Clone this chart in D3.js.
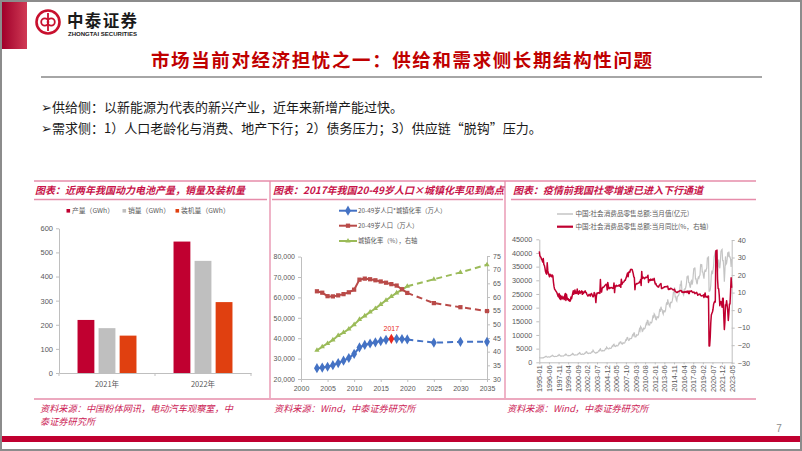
<!DOCTYPE html>
<html><head><meta charset="utf-8">
<script src="https://cdn.jsdelivr.net/npm/d3@7"></script>
<style>body{margin:0;background:#fff}svg{display:block}</style>
</head><body><svg id="s" width="802" height="451"></svg>
<script>
// ---------- DATA ----------
// Panel 1: power battery
const batteryCategories = ["2021年", "2022年"];
const batterySeriesNames = ["产量（GWh）", "销量（GWh）", "装机量（GWh）"];
const batteryProduction = [220, 545];
const batterySales = [186, 465];
const batteryInstalled = [155, 294];
const batteryYTicks = [0, 100, 200, 300, 400, 500, 600];

// Panel 2: population x urbanisation
const popYears = [2003,2004,2005,2006,2007,2008,2009,2010,2011,2012,2013,2014,2015,2016,2017,2018,2019,2020,2025,2030,2035];
const popTimesUrban = [25300,25600,26000,26800,27800,29000,30300,32300,35500,36700,37400,38000,38600,39200,39700,39700,39600,39400,37800,38200,38200];
const pop20to49 = [63000,62300,60600,60500,61000,61600,62500,63800,68700,69200,68900,68400,67800,67200,66500,65800,64000,62200,57200,55200,53300];
const urbanRate = [40.5,41.8,43.0,44.3,45.9,47.0,48.3,49.9,51.8,53.1,54.5,55.8,57.3,58.8,60.2,61.5,62.7,63.9,66.5,69.0,71.8];
const popLegend = ["20-49岁人口*城镇化率（万人）", "20-49岁人口（万人）", "城镇化率（%），右轴"];
const popXTicks = [2000,2005,2010,2015,2020,2025,2030,2035];
const popLeftTicks = [20000,30000,40000,50000,60000,70000,80000];
const popRightTicks = [30,35,40,45,50,55,60,65,70,75];

// Panel 3: retail sales, monthly 1995-01 .. 2023-05
const retailLevel = [
 1870,1670,1600,1580,1660,1630,1610,1640,1780,1900,1870,2150,
 2250,2000,1920,1900,2000,1960,1930,1970,2140,2290,2250,2580,
 2480,2210,2110,2090,2200,2160,2130,2170,2360,2520,2480,2840,
 2650,2360,2250,2230,2350,2310,2280,2320,2520,2700,2650,3040,
 2830,2520,2400,2380,2510,2460,2430,2480,2690,2880,2830,3250,
 3100,2760,2640,2620,2750,2700,2670,2720,2950,3150,3100,3550,
 3400,3050,2900,2880,3030,2980,2940,2990,3250,3470,3410,3910,
 3800,3400,3250,3220,3380,3330,3280,3330,3610,3860,3800,4440,
 4130,3700,3550,3430,3340,3590,3570,3620,3890,4210,4150,4700,
 4900,4300,4150,4080,4350,4330,4170,4200,4590,4990,4910,5560,
 5300,5012,4916,4900,5250,5160,5090,5150,5570,6000,5820,6480,
 6642,6002,5796,5775,6176,6058,6012,6077,6554,7051,6822,7500,
 7489,7014,6686,6673,7158,7026,6999,7116,7668,8263,8104,9015,
 9077,8355,7985,8143,8703,8642,8629,8767,9447,10083,9791,10728,
 10757,9324,9318,9343,10028,9942,9937,10115,11090,12123,11597,13079,
 12718,12335,11321,11510,12455,12330,12252,12570,13537,14285,13910,15330,
 15250,13770,13588,13649,14697,14565,14408,14705,15865,17200,16130,17740,
 17400,16700,15650,15603,16715,16584,16315,16659,18227,19546,18477,20334,
 19400,19270,18148,17600,18886,18826,18477,18886,20654,21979,21012,23060,
 21630,21630,20622,20221,21955,21943,21899,22564,23693,25659,25692,27393,
 23939,23939,22734,22386,24195,24275,24340,25056,26133,28307,28224,29939,
 26275,26275,25061,24646,26611,26857,26827,27540,28802,31119,30959,31757,
 29204,29204,27864,27278,29459,29808,28400,29300,31900,34200,34100,34700,
 30541,30541,29194,28542,30359,31079,30734,31542,32005,35534,35260,35893,
 33032,33032,31726,30586,32956,33878,33073,33896,34495,38104,38094,38777,
 26065,26065,26450,28178,31973,33526,32203,33571,35295,38576,39514,40566,
 34869,34869,35484,33153,35945,37586,34925,34395,36833,40454,41043,41269,
 37213,37213,34233,29483,33547,38742,35870,36258,37745,40271,38615,40542,
 38534,38534,37715,34910,37803
];
const retailYoY = [
 33.5,31.0,30.5,30.0,29.0,28.5,27.5,29.5,26.0,25.5,24.0,22.0,
 21.0,20.5,27.0,22.5,21.0,20.0,19.0,20.5,19.5,20.0,19.0,20.0,
 19.5,16.0,13.5,12.0,11.5,11.0,10.5,10.0,9.0,8.0,7.5,9.5,
 6.5,8.5,6.0,7.5,8.0,6.5,7.0,7.5,6.0,8.5,9.5,5.5,
 9.0,7.0,6.0,6.5,5.5,6.0,5.0,5.5,7.5,6.5,8.0,9.5,
 11.0,9.0,10.0,11.5,9.5,10.0,9.5,12.0,10.0,9.0,10.5,11.0,
 9.5,10.0,10.5,11.0,9.0,10.5,9.5,10.0,10.5,11.0,10.0,10.0,
 9.0,8.5,8.0,8.5,9.0,8.5,8.0,9.0,9.5,9.0,8.0,7.5,
 8.0,10.0,9.5,7.7,4.3,8.3,9.8,9.5,10.0,9.8,10.0,9.5,
 17.5,10.5,10.3,12.2,13.0,12.9,13.2,13.6,14.0,14.4,14.8,14.5,
 11.5,15.8,13.9,12.2,12.7,12.5,12.7,12.9,12.8,12.7,12.4,12.5,
 15.5,10.0,13.7,13.3,14.2,13.9,13.7,13.8,13.9,14.3,13.7,14.6,
 13.0,17.6,14.7,15.4,15.9,16.0,16.4,17.1,17.0,18.1,18.8,20.2,
 21.2,19.1,21.5,22.0,21.6,23.0,23.3,23.2,23.2,22.0,20.8,19.0,
 18.5,11.6,14.7,14.8,15.2,15.0,15.2,15.4,15.5,16.2,15.8,17.5,
 14.1,22.1,18.0,18.5,18.7,18.3,17.9,18.4,18.8,18.6,18.7,19.1,
 19.9,15.8,17.4,17.1,16.9,17.7,17.2,17.0,17.7,17.2,17.3,18.1,
 16.0,14.9,15.2,14.1,13.8,13.7,13.1,13.2,14.2,14.5,14.9,15.2,
 12.3,12.3,12.6,12.8,12.9,13.3,13.2,13.4,13.3,13.3,13.7,13.6,
 11.8,11.8,12.2,11.9,12.5,12.4,12.2,11.9,11.6,11.5,11.7,11.9,
 10.7,10.7,10.2,10.0,10.1,10.6,10.5,10.8,10.9,11.0,11.2,11.1,
 10.2,10.2,10.5,10.1,10.0,10.6,10.2,10.6,10.7,10.0,10.8,10.9,
 9.5,9.5,10.9,10.7,10.7,11.0,10.4,10.1,10.3,10.0,10.2,9.4,
 9.7,9.7,10.1,9.4,8.5,9.0,8.8,9.0,9.2,8.6,8.1,8.2,
 8.2,8.2,8.7,7.2,8.6,9.8,7.6,7.5,7.8,7.2,8.0,8.0,
 -20.5,-20.5,-15.8,-7.5,-2.8,-1.8,-1.1,0.5,3.3,4.3,5.0,4.6,
 33.8,33.8,34.2,17.7,12.4,12.1,8.5,2.5,4.4,4.9,3.9,1.7,
 6.7,6.7,-3.5,-11.1,-6.7,3.1,2.7,5.4,2.5,-0.5,-5.9,-1.8,
 3.5,3.5,10.6,18.4,12.7
];
const retailXTickLabels = ["1995-01","1996-06","1997-11","1999-04","2000-09","2002-02","2003-07","2004-12","2006-05","2007-10","2009-03","2010-08","2012-01","2013-06","2014-11","2016-04","2017-09","2019-02","2020-07","2021-12","2023-05"];
const retailLeftTicks = [0,5000,10000,15000,20000,25000,30000,35000,40000,45000];
const retailRightTicks = [-30,-20,-10,0,10,20,30,40];
const retailLegend = ["中国:社会消费品零售总额:当月值(亿元)", "中国:社会消费品零售总额:当月同比(%，右轴)"];

// ---------- DRAW ----------
const svg = d3.select("#s");
const CJK = "'Noto Sans CJK SC','Noto Sans',sans-serif";
const LAT = "'Liberation Sans',Arial,sans-serif";
const CRIMSON = "#C00030";
const PINK = "#E68CAA";
const AX = "#BFBFBF", TX = "#595959";

svg.append("rect").attr("x",1).attr("y",1).attr("width",800).attr("height",449)
  .attr("fill","#fff").attr("stroke","#8c8c8c").attr("stroke-width",2);

const defs = svg.append("defs");
const g1 = defs.append("linearGradient").attr("id","rg").attr("x1",0).attr("x2",1).attr("y1",0).attr("y2",0);
g1.append("stop").attr("offset","0%").attr("stop-color","#A0002A");
g1.append("stop").attr("offset","100%").attr("stop-color","#D03A55");
svg.append("rect").attr("x",2).attr("y",2).attr("width",25).attr("height",47).attr("fill","url(#rg)");

// logo
const logo = svg.append("g").attr("fill","none").attr("stroke","#C8102E");
logo.append("circle").attr("cx",48).attr("cy",22).attr("r",11.5).attr("stroke-width",2.6);
logo.append("circle").attr("cx",44.8).attr("cy",22).attr("r",3.6).attr("stroke-width",1.8);
logo.append("circle").attr("cx",51.2).attr("cy",22).attr("r",3.6).attr("stroke-width",1.8);
logo.append("line").attr("x1",48).attr("x2",48).attr("y1",13).attr("y2",31).attr("stroke-width",1.8);
svg.append("text").attr("x",67).attr("y",27).attr("font-family",CJK).attr("font-weight",700)
  .attr("font-size",16.5).attr("fill","#1a1a1a").attr("textLength",70).text("中泰证券");
svg.append("text").attr("x",68).attr("y",35.5).attr("font-family",LAT).attr("font-weight",700)
  .attr("font-size",4.8).attr("fill","#1a1a1a").attr("textLength",69).attr("lengthAdjust","spacingAndGlyphs").text("ZHONGTAI SECURITIES");

// title
svg.append("text").attr("x",151).attr("y",67).attr("font-family",CJK).attr("font-weight",700)
  .attr("font-size",18.5).attr("fill","#C00000").attr("textLength",501)
  .text("市场当前对经济担忧之一：供给和需求侧长期结构性问题");
svg.append("line").attr("x1",41).attr("x2",762).attr("y1",77).attr("y2",77).attr("stroke","#A6A6A6").attr("stroke-width",2);

// bullets
svg.append("text").attr("x",41).attr("y",112).attr("font-family",CJK).attr("font-size",13).attr("fill","#1a1a1a")
  .text("➢供给侧：以新能源为代表的新兴产业，近年来新增产能过快。");
svg.append("text").attr("x",41).attr("y",133).attr("font-family",CJK).attr("font-size",13).attr("fill","#1a1a1a")
  .text("➢需求侧：1）人口老龄化与消费、地产下行；2）债务压力；3）供应链“脱钩”压力。");

// panel frame lines
const fr = svg.append("g").attr("stroke",PINK).attr("stroke-width",1.3);
fr.append("line").attr("x1",34).attr("x2",756).attr("y1",181).attr("y2",181);
fr.append("line").attr("x1",34).attr("x2",267).attr("y1",199.5).attr("y2",199.5);
fr.append("line").attr("x1",272).attr("x2",503).attr("y1",199.5).attr("y2",199.5);
fr.append("line").attr("x1",511).attr("x2",756).attr("y1",199.5).attr("y2",199.5);
fr.append("line").attr("x1",270).attr("x2",270).attr("y1",181).attr("y2",398);
fr.append("line").attr("x1",505).attr("x2",505).attr("y1",181).attr("y2",398);
fr.append("line").attr("x1",34).attr("x2",756).attr("y1",399).attr("y2",399);

function chartTitle(x, t) {
  svg.append("text").attr("x",x).attr("y",194).attr("font-family",CJK).attr("font-size",10)
    .attr("font-weight",700).attr("font-style","italic").attr("fill","#C8144A").text(t);
}
chartTitle(35, "图表：近两年我国动力电池产量，销量及装机量");
chartTitle(273, "图表：2017年我国20-49岁人口×城镇化率见到高点");
chartTitle(513, "图表：疫情前我国社零增速已进入下行通道");

function source(x, y, t) {
  svg.append("text").attr("x",x).attr("y",y).attr("font-family",CJK).attr("font-size",9.2)
    .attr("font-style","italic").attr("fill","#CC2255").text(t);
}
source(40, 411.5, "资料来源：中国粉体网讯，电动汽车观察室，中");
source(40, 425.3, "泰证券研究所");
source(274, 411.5, "资料来源：Wind，中泰证券研究所");
source(507, 411.5, "资料来源：Wind，中泰证券研究所");

svg.append("rect").attr("x",2).attr("y",436).attr("width",798).attr("height",6).attr("fill",CRIMSON);
svg.append("text").attr("x",779).attr("y",432).attr("text-anchor","middle").attr("font-family",LAT)
  .attr("font-size",10).attr("fill","#8c8c8c").text("7");

function styleAxis(g, fs) {
  g.attr("font-family", LAT).attr("font-size", fs);
  g.select(".domain").attr("stroke", AX);
  g.selectAll(".tick line").attr("stroke", AX);
  g.selectAll(".tick text").attr("fill", TX);
}

// ---------- PANEL 1 ----------
{
  const x = d3.scaleBand().domain(batteryCategories).range([59, 251]);
  const xi = d3.scaleBand().domain(batterySeriesNames).range([0, x.bandwidth()]).paddingInner(0.2).paddingOuter(0.88);
  const y = d3.scaleLinear().domain([0, 600]).range([373, 228.3]);
  const colors = ["#C00030", "#BFBFBF", "#E04010"];
  const vals = [batteryProduction, batterySales, batteryInstalled];
  const ya = svg.append("g").attr("transform","translate(59,0)")
    .call(d3.axisLeft(y).tickValues(batteryYTicks).tickSize(3).tickSizeOuter(0));
  styleAxis(ya, 7.5);
  batterySeriesNames.forEach((s, si) => {
    svg.append("g").selectAll("rect").data(batteryCategories).join("rect")
      .attr("x", c => x(c) + xi(s)).attr("width", xi.bandwidth())
      .attr("y", (c, ci) => y(vals[si][ci])).attr("height", (c, ci) => y(0) - y(vals[si][ci]))
      .attr("fill", colors[si]);
  });
  const xa = svg.append("g").attr("transform","translate(0,373)")
    .call(d3.axisBottom(x).tickSize(0).tickPadding(9));
  styleAxis(xa, 7.5);
  xa.selectAll(".tick text").attr("font-family", CJK);
  const bounds = [x(batteryCategories[0]), x(batteryCategories[1]), x(batteryCategories[1]) + x.bandwidth()];
  svg.append("g").selectAll("line").data(bounds).join("line")
    .attr("x1", d => d).attr("x2", d => d).attr("y1", 373).attr("y2", 376).attr("stroke", AX);
  const lx = [66.5, 122.5, 175.5];
  batterySeriesNames.forEach((s, i) => {
    svg.append("rect").attr("x", lx[i]).attr("y", 209).attr("width", 3.6).attr("height", 3.6).attr("fill", colors[i]);
    svg.append("text").attr("x", lx[i] + 5.5).attr("y", 213.3).attr("font-family", CJK).attr("font-size", 6.8)
      .attr("fill", TX).text(s);
  });
}

// ---------- PANEL 2 ----------
{
  const x = d3.scaleLinear().domain([2000, 2035]).range([301, 487]);
  const yl = d3.scaleLinear().domain([20000, 80000]).range([379, 256.6]);
  const yr = d3.scaleLinear().domain([30, 75]).range([379, 256]);
  const xa = svg.append("g").attr("transform","translate(0,379)")
    .call(d3.axisBottom(x).tickValues(popXTicks).tickFormat(d3.format("d")).tickSize(3).tickSizeOuter(0).tickPadding(4));
  styleAxis(xa, 7);
  const la = svg.append("g").attr("transform","translate(301,0)")
    .call(d3.axisLeft(yl).tickValues(popLeftTicks).tickFormat(d3.format(",")).tickSize(3).tickSizeOuter(0));
  styleAxis(la, 7);
  const ra = svg.append("g").attr("transform","translate(487,0)")
    .call(d3.axisRight(yr).tickValues(popRightTicks).tickSize(3).tickSizeOuter(0));
  styleAxis(ra, 7);

  const series = [
    {vals: urbanRate, y: yr, color: "#9BBB59", sym: d3.symbolTriangle, size: 12},
    {vals: pop20to49, y: yl, color: "#B94A48", sym: d3.symbolSquare, size: 18},
    {vals: popTimesUrban, y: yl, color: "#4472C4", sym: d3.symbolDiamond, size: 30},
  ];
  series.forEach(s => {
    const pts = popYears.map((yr_, i) => ({yr: yr_, v: s.vals[i]}));
    const line = d3.line().x(d => x(d.yr)).y(d => s.y(d.v));
    svg.append("path").datum(pts.filter(d => d.yr <= 2020)).attr("d", line)
      .attr("fill","none").attr("stroke", s.color).attr("stroke-width", 2);
    svg.append("path").datum(pts.filter(d => d.yr >= 2020)).attr("d", line)
      .attr("fill","none").attr("stroke", s.color).attr("stroke-width", 2).attr("stroke-dasharray","6,4");
    svg.append("g").selectAll("path").data(pts).join("path")
      .attr("transform", d => `translate(${x(d.yr)},${s.y(d.v)})`)
      .attr("d", d3.symbol(s.sym, s.size))
      .attr("fill", d => (s.sym === d3.symbolDiamond && d.yr === 2017) ? "#E8281E" : s.color);
  });
  const i17 = popYears.indexOf(2017);
  svg.append("text").attr("x", x(2017)).attr("y", yl(popTimesUrban[i17]) - 8).attr("text-anchor","middle")
    .attr("font-family", LAT).attr("font-size", 7).attr("fill", "#E8281E").text("2017");

  const leg = [
    {y: 210.7, color: "#4472C4", sym: d3.symbolDiamond, size: 30},
    {y: 225.7, color: "#B94A48", sym: d3.symbolSquare, size: 18},
    {y: 241, color: "#9BBB59", sym: d3.symbolTriangle, size: 12},
  ];
  leg.forEach((l, i) => {
    svg.append("line").attr("x1", 339).attr("x2", 357).attr("y1", l.y).attr("y2", l.y).attr("stroke", l.color).attr("stroke-width", 2);
    svg.append("path").attr("transform", `translate(348,${l.y})`).attr("d", d3.symbol(l.sym, l.size)).attr("fill", l.color);
    svg.append("text").attr("x", 358).attr("y", l.y + 2.3).attr("font-family", CJK).attr("font-size", 6.3)
      .attr("fill", TX).text(popLegend[i]);
  });
}

// ---------- PANEL 3 ----------
{
  const n = retailLevel.length;
  const x = d3.scaleLinear().domain([0, n - 1]).range([539.3, 731.7]);
  const yl = d3.scaleLinear().domain([0, 45000]).range([362.3, 239.3]);
  const yr = d3.scaleLinear().domain([-30, 40]).range([362.7, 240]);
  const idxOf = s => (+s.slice(0, 4) - 1995) * 12 + (+s.slice(5, 7) - 1);
  const la = svg.append("g").attr("transform","translate(539.3,0)")
    .call(d3.axisLeft(yl).tickValues(retailLeftTicks).tickFormat(d3.format("d")).tickSize(3).tickSizeOuter(0).tickPadding(4));
  styleAxis(la, 7.3);
  const ra = svg.append("g").attr("transform","translate(731.7,0)")
    .call(d3.axisRight(yr).tickValues(retailRightTicks).tickSize(3).tickSizeOuter(0));
  styleAxis(ra, 7.3);
  const xa = svg.append("g").attr("transform","translate(0,362.3)")
    .call(d3.axisBottom(x).tickValues(retailXTickLabels.map(idxOf)).tickFormat((d, i) => retailXTickLabels[i]).tickSize(2).tickSizeOuter(0));
  styleAxis(xa, 7.3);
  xa.selectAll(".tick text").attr("text-anchor","end").attr("transform","translate(0,3) rotate(-90)")
    .attr("x", 0).attr("y", 0).attr("dy", "0.35em");

  svg.append("path").datum(retailLevel)
    .attr("d", d3.line().x((d, i) => x(i)).y(d => yl(d)))
    .attr("fill","none").attr("stroke","#C4C4C4").attr("stroke-width",1.2);
  svg.append("path").datum(retailYoY)
    .attr("d", d3.line().x((d, i) => x(i)).y(d => yr(d)))
    .attr("fill","none").attr("stroke",CRIMSON).attr("stroke-width",1.5).attr("stroke-linejoin","round");

  const leg = [{y: 214, color: "#C4C4C4", w: 1.5}, {y: 226.7, color: CRIMSON, w: 2.2}];
  leg.forEach((l, i) => {
    svg.append("line").attr("x1", 557).attr("x2", 573).attr("y1", l.y).attr("y2", l.y).attr("stroke", l.color).attr("stroke-width", l.w);
    svg.append("text").attr("x", 575.5).attr("y", l.y + 2.3).attr("font-family", CJK).attr("font-size", 6.6)
      .attr("fill", TX).text(retailLegend[i]);
  });
}
</script>
</body></html>
